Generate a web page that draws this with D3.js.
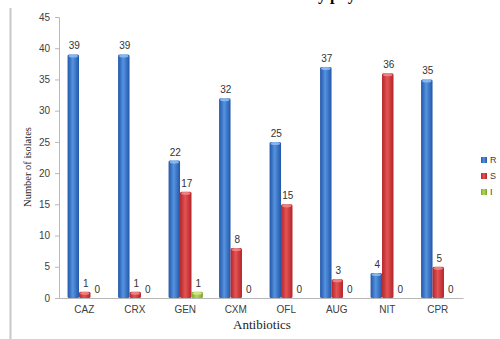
<!DOCTYPE html>
<html>
<head>
<meta charset="utf-8">
<script src="https://cdn.jsdelivr.net/npm/d3@7/dist/d3.min.js"></script>
<style>
  html, body { margin: 0; padding: 0; background: #ffffff; }
  svg { display: block; }
</style>
</head>
<body>
<svg id="chart" width="500" height="339"></svg>
<script>
// Antibiotic susceptibility counts per drug
const categories = ["CAZ", "CRX", "GEN", "CXM", "OFL", "AUG", "NIT", "CPR"];
const seriesNames = ["R", "S", "I"];
const resistant    = [39, 39, 22, 32, 25, 37, 4, 35];
const susceptible  = [1, 1, 17, 8, 15, 3, 36, 5];
const intermediate = [0, 0, 1, 0, 0, 0, 0, 0];
const yTicks = [0, 5, 10, 15, 20, 25, 30, 35, 40, 45];

const seriesValues = { R: resistant, S: susceptible, I: intermediate };
const palette = {
  R: { edge: "#2256a8", mid: "#5593e0", cap: "#8fbdf0" },
  S: { edge: "#b3242a", mid: "#e45454", cap: "#f08a8a" },
  I: { edge: "#7ea32a", mid: "#b4d65a", cap: "#d4ea8e" }
};

const svg = d3.select("#chart");
const plot = { left: 59, right: 463, top: 17, bottom: 298 };

// Gradients that give each bar its rounded, shaded look
const defs = svg.append("defs");
seriesNames.forEach(s => {
  const g = defs.append("linearGradient").attr("id", "grad-" + s)
    .attr("x1", "0%").attr("x2", "100%").attr("y1", "0%").attr("y2", "0%");
  g.append("stop").attr("offset", "0%").attr("stop-color", palette[s].edge);
  g.append("stop").attr("offset", "45%").attr("stop-color", palette[s].mid);
  g.append("stop").attr("offset", "100%").attr("stop-color", palette[s].edge);
});

// Thin frame line at the left edge of the figure
svg.append("line")
  .attr("x1", 10.5).attr("x2", 10.5).attr("y1", 8).attr("y2", 339)
  .attr("stroke", "#c8c8c8").attr("stroke-width", 2);

// Caption line, sitting just above the top edge; only its descenders reach in
const caption = svg.append("text")
  .attr("y", -0.5)
  .attr("font-family", "Liberation Serif, serif")
  .attr("font-weight", "bold").attr("font-size", 16)
  .attr("fill", "#000")
  .text("Antibiotic resistance by phylum");
const capNode = caption.node();
const yIndex = capNode.textContent.indexOf("by ") + 1;
const yStart = capNode.getSubStringLength(0, yIndex);
caption.attr("x", 318 - yStart);

const x0 = d3.scaleBand().domain(categories).range([plot.left, plot.right]).padding(0);
const bw = x0.bandwidth();
const x1 = d3.scaleBand().domain(seriesNames).range([bw * 0.17, bw * 0.85]).padding(0);
const y = d3.scaleLinear().domain([0, 45]).range([plot.bottom, plot.top]);

// Y axis
const yAxis = svg.append("g")
  .attr("transform", `translate(${plot.left},0)`)
  .call(d3.axisLeft(y).tickValues(yTicks).tickSize(4).tickPadding(5));
yAxis.select(".domain").attr("stroke", "#b8b8b8");
yAxis.selectAll(".tick line").attr("stroke", "#b8b8b8");
yAxis.selectAll(".tick text")
  .attr("font-family", "Liberation Sans, Arial, sans-serif")
  .attr("font-size", 10).attr("fill", "#404040");

// X axis
const xAxis = svg.append("g")
  .attr("transform", `translate(0,${plot.bottom})`)
  .call(d3.axisBottom(x0).tickSize(0).tickPadding(8));
xAxis.select(".domain").attr("stroke", "#b8b8b8");
xAxis.selectAll(".tick text")
  .attr("font-family", "Liberation Sans, Arial, sans-serif")
  .attr("font-size", 10).attr("fill", "#404040");

// Bars
const rows = [];
categories.forEach((c, i) => {
  seriesNames.forEach(s => rows.push({ cat: c, series: s, value: seriesValues[s][i] }));
});

const groups = svg.append("g").selectAll("g")
  .data(rows).enter().append("g")
  .attr("transform", d => `translate(${x0(d.cat) + x1(d.series)},0)`);

groups.filter(d => d.value > 0).append("rect")
  .attr("x", 0)
  .attr("y", d => y(d.value))
  .attr("width", x1.bandwidth())
  .attr("height", d => y(0) - y(d.value))
  .attr("rx", 1.5)
  .attr("fill", d => `url(#grad-${d.series})`);

groups.filter(d => d.value > 0).append("ellipse")
  .attr("cx", x1.bandwidth() / 2)
  .attr("cy", d => y(d.value) + 1.5)
  .attr("rx", x1.bandwidth() / 2 - 1)
  .attr("ry", 1.6)
  .attr("fill", d => palette[d.series].cap)
  .attr("opacity", 0.85);

// Value labels
groups.append("text")
  .attr("x", x1.bandwidth() / 2 + 1)
  .attr("y", d => y(d.value) - 5)
  .attr("text-anchor", "middle")
  .attr("font-family", "Liberation Sans, Arial, sans-serif")
  .attr("font-size", 10).attr("fill", "#333")
  .text(d => d.value);

// Axis titles
svg.append("text")
  .attr("transform", "translate(31,167) rotate(-90)")
  .attr("text-anchor", "middle")
  .attr("font-family", "Liberation Serif, Times New Roman, serif")
  .attr("font-size", 10.5).attr("fill", "#222")
  .text("Number of isolates");

svg.append("text")
  .attr("x", 262).attr("y", 329)
  .attr("text-anchor", "middle")
  .attr("font-family", "Liberation Serif, Times New Roman, serif")
  .attr("font-size", 13).attr("fill", "#222")
  .text("Antibiotics");

// Legend
const legend = svg.append("g").selectAll("g")
  .data(seriesNames).enter().append("g")
  .attr("transform", (d, i) => `translate(481,${157 + i * 16})`);
legend.append("rect")
  .attr("width", 6).attr("height", 6)
  .attr("fill", d => `url(#grad-${d})`);
legend.append("text")
  .attr("x", 9).attr("y", 6)
  .attr("font-family", "Liberation Sans, Arial, sans-serif")
  .attr("font-size", 9).attr("fill", "#404040")
  .text(d => d);
</script>
</body>
</html>
